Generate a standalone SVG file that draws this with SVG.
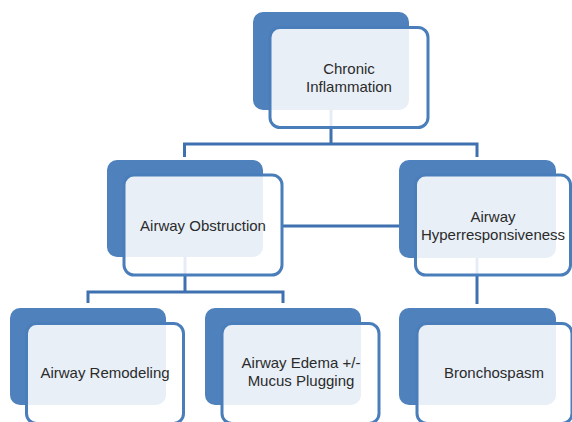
<svg xmlns="http://www.w3.org/2000/svg" width="572" height="422" viewBox="0 0 572 422">
<style>
.back{fill:#4F81BD}
.front{fill:#FFFFFF;fill-opacity:0.87;stroke:#4A7EBB;stroke-width:3}
.conn{fill:none;stroke:#3F70AF;stroke-width:3}
text{font-family:"Liberation Sans",Arial,sans-serif;font-size:15px;fill:#2B2B2B;text-anchor:middle}
</style>
<rect width="572" height="422" fill="#FFFFFF"/>
<g id="connectors">
<path class="conn" d="M331,105 V144"/>
<path class="conn" d="M184.5,157 V144 H477 V157"/>
<path class="conn" d="M185,250 V292"/>
<path class="conn" d="M88,303 V292 H283 V303"/>
<path class="conn" d="M283,226 H399"/>
<path class="conn" d="M477,250 V304"/>
</g>
<g id="chronic-inflammation">
<rect class="back" x="253" y="12" width="156" height="98" rx="10"/>
<rect class="front" x="270" y="27.5" width="158" height="100" rx="10"/>
<text x="349" y="74">Chronic</text>
<text x="349" y="92">Inflammation</text>
</g>
<g id="airway-obstruction">
<rect class="back" x="107" y="160" width="156" height="97" rx="10"/>
<rect class="front" x="124" y="175" width="158" height="100" rx="10"/>
<text x="203" y="231">Airway Obstruction</text>
</g>
<g id="airway-hyperresponsiveness">
<rect class="back" x="399" y="160" width="157" height="98" rx="10"/>
<rect class="front" x="415.5" y="175" width="155" height="100" rx="10"/>
<text x="493" y="222">Airway</text>
<text x="493" y="240">Hyperresponsiveness</text>
</g>
<g id="airway-remodeling">
<rect class="back" x="10" y="308" width="156" height="97" rx="10"/>
<rect class="front" x="26.5" y="323.5" width="157" height="100" rx="10"/>
<text x="105" y="378">Airway Remodeling</text>
</g>
<g id="airway-edema">
<rect class="back" x="205" y="308" width="156" height="97" rx="10"/>
<rect class="front" x="222" y="323.5" width="157" height="100" rx="10"/>
<text x="301" y="368">Airway Edema +/-</text>
<text x="301" y="386">Mucus Plugging</text>
</g>
<g id="bronchospasm">
<rect class="back" x="399" y="308" width="157" height="97" rx="10"/>
<rect class="front" x="417" y="323.5" width="155" height="100" rx="10"/>
<text x="494" y="378">Bronchospasm</text>
</g>
</svg>
